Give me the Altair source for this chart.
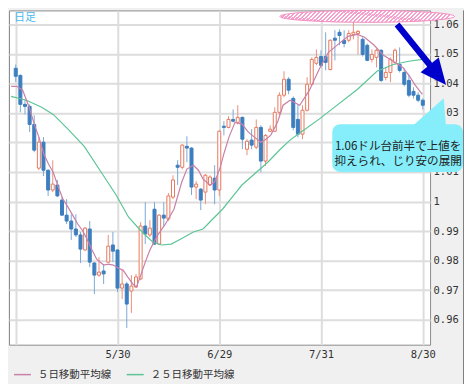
import altair as alt
import pandas as pd

# ---------------- data ----------------
idx = list(range(1, 90))
opens = [1.0451, 1.0427, 1.0329, 1.0322, 1.0261, 1.0113, 1.0201, 1.0106, 1.0039, 1.0056,
         1.0005, 0.9954, 0.9934, 0.9907, 0.9887, 0.9836, 0.9907, 0.9792, 0.9751, 0.9765,
         0.9795, 0.9853, 0.9836, 0.9707, 0.9721, 0.9697, 0.9711, 0.9738, 0.9917, 0.9887,
         0.9974, 0.9856, 0.9954, 0.9941, 1.0015, 1.0123, 1.0116, 1.0187, 1.0181, 1.0049,
         1.0042, 1.0032, 1.0056, 1.0079, 1.0039, 1.0255, 1.0251, 1.0278, 1.0268, 1.0285,
         1.0177, 1.0208, 1.0184, 1.0251, 1.0137, 1.0238, 1.0238, 1.0302, 1.0360, 1.0414,
         1.0349, 1.0278, 1.0228, 1.0309, 1.0397, 1.0468, 1.0491, 1.0491, 1.0447, 1.0553,
         1.0573, 1.0546, 1.0546, 1.0566, 1.0569, 1.0549, 1.0529, 1.0481, 1.0488, 1.0512,
         1.0420, 1.0437, 1.0471, 1.0464, 1.0437, 1.0410, 1.0373, 1.0360, 1.0343]
highs = [1.0464, 1.0430, 1.0346, 1.0329, 1.0292, 1.0218, 1.0218, 1.0109, 1.0140, 1.0073,
         1.0015, 1.0008, 0.9957, 0.9957, 0.9897, 0.9914, 0.9934, 0.9795, 0.9812, 0.9788,
         0.9887, 0.9897, 0.9838, 0.9768, 0.9728, 0.9751, 0.9755, 0.9930, 0.9998, 0.9937,
         0.9998, 0.9957, 0.9998, 1.0029, 1.0089, 1.0140, 1.0194, 1.0221, 1.0184, 1.0069,
         1.0046, 1.0093, 1.0089, 1.0123, 1.0241, 1.0272, 1.0289, 1.0312, 1.0326, 1.0288,
         1.0211, 1.0245, 1.0278, 1.0258, 1.0228, 1.0258, 1.0319, 1.0370, 1.0441, 1.0421,
         1.0356, 1.0329, 1.0326, 1.0421, 1.0488, 1.0515, 1.0512, 1.0573, 1.0549, 1.0580,
         1.0583, 1.0580, 1.0580, 1.0610, 1.0580, 1.0556, 1.0535, 1.0515, 1.0518, 1.0515,
         1.0454, 1.0488, 1.0518, 1.0522, 1.0451, 1.0430, 1.0387, 1.0370, 1.0349]
lows = [1.0404, 1.0302, 1.0295, 1.0235, 1.0167, 1.0106, 1.0086, 1.0019, 1.0032, 1.0015,
        0.9951, 0.9924, 0.9870, 0.9880, 0.9792, 0.9833, 0.9778, 0.9687, 0.9745, 0.9721,
        0.9792, 0.9795, 0.9694, 0.9670, 0.9572, 0.9623, 0.9707, 0.9734, 0.9856, 0.9880,
        0.9853, 0.9853, 0.9917, 0.9934, 1.0008, 1.0056, 1.0109, 1.0133, 1.0022, 1.0008,
        0.9971, 0.9991, 1.0053, 0.9991, 1.0019, 1.0224, 1.0248, 1.0268, 1.0261, 1.0177,
        1.0157, 1.0177, 1.0177, 1.0099, 1.0120, 1.0235, 1.0235, 1.0292, 1.0353, 1.0363,
        1.0241, 1.0218, 1.0211, 1.0305, 1.0393, 1.0461, 1.0454, 1.0444, 1.0444, 1.0478,
        1.0529, 1.0522, 1.0539, 1.0549, 1.0498, 1.0491, 1.0475, 1.0471, 1.0454, 1.0404,
        1.0410, 1.0404, 1.0464, 1.0437, 1.0390, 1.0353, 1.0349, 1.0336, 1.0312]
closes = [1.0424, 1.0329, 1.0322, 1.0261, 1.0174, 1.0201, 1.0106, 1.0039, 1.0059, 1.0019,
          0.9954, 0.9934, 0.9907, 0.9887, 0.9839, 0.9910, 0.9795, 0.9751, 0.9761, 0.9755,
          0.9849, 0.9832, 0.9707, 0.9721, 0.9653, 0.9714, 0.9745, 0.9917, 0.9890, 0.9910,
          0.9856, 0.9954, 0.9944, 1.0019, 1.0073, 1.0116, 1.0191, 1.0181, 1.0049, 1.0059,
          1.0005, 1.0089, 1.0083, 1.0039, 1.0238, 1.0251, 1.0278, 1.0272, 1.0285, 1.0211,
          1.0204, 1.0191, 1.0251, 1.0137, 1.0224, 1.0245, 1.0302, 1.0360, 1.0414, 1.0377,
          1.0251, 1.0228, 1.0309, 1.0397, 1.0481, 1.0488, 1.0461, 1.0471, 1.0546, 1.0546,
          1.0562, 1.0535, 1.0569, 1.0573, 1.0576, 1.0498, 1.0478, 1.0498, 1.0512, 1.0410,
          1.0437, 1.0481, 1.0512, 1.0444, 1.0397, 1.0360, 1.0360, 1.0343, 1.0326]

ma5_i = [0, 1.2, 2.5, 3.9, 5.0, 6.0, 7.1, 8.1, 9.1, 10.2, 11.2, 12.3, 13.3, 14.4, 15.4,
         16.4, 17.5, 18.5, 20.0, 21.0, 22.1, 23.1, 24.2, 25.2, 26.3, 27.1, 27.9, 29.0, 30.0,
         30.9, 31.7, 33.2, 35.2, 36.9, 38.0, 39.4, 40.5, 41.5, 43.0, 44.0, 45.1, 46.1, 47.1,
         48.4, 49.9, 51.3, 52.6, 54.0, 55.1, 56.1, 57.6, 58.8, 60.3, 62.4, 64.5, 66.6, 68.6,
         70.7, 72.8, 74.9, 76.4, 78.5, 80.5, 82.6, 84.7, 86.0, 87.4, 88.9]
ma5_v = [1.0390, 1.0390, 1.0377, 1.0319, 1.0262, 1.0218, 1.0160, 1.0126, 1.0099, 1.0049,
         1.0008, 0.9981, 0.9954, 0.9924, 0.9903, 0.9873, 0.9836, 0.9805, 0.9785, 0.9788,
         0.9785, 0.9775, 0.9768, 0.9745, 0.9721, 0.9711, 0.9745, 0.9795, 0.9836, 0.9863,
         0.9887, 0.9920, 0.9974, 1.0066, 1.0110, 1.0123, 1.0106, 1.0076, 1.0056, 1.0066,
         1.0110, 1.0167, 1.0218, 1.0268, 1.0262, 1.0235, 1.0218, 1.0201, 1.0211, 1.0224,
         1.0268, 1.0326, 1.0343, 1.0326, 1.0377, 1.0448, 1.0505, 1.0532, 1.0559, 1.0566,
         1.0556, 1.0529, 1.0495, 1.0475, 1.0454, 1.0427, 1.0393, 1.0363]
ma25_i = [0, 3.3, 6.6, 9.1, 12.3, 15.8, 19.2, 22.7, 25.4, 28.3, 30.6, 32.5, 34.6, 36.7,
          39.4, 41.5, 43.6, 45.7, 47.8, 49.9, 52.6, 55.5, 58.2, 60.3, 62.4, 66.6, 69.3,
          74.9, 79.1, 82.6, 86.0, 88.9]
ma25_v = [1.0356, 1.0343, 1.0319, 1.0295, 1.0245, 1.0187, 1.0106, 1.0022, 0.9947, 0.9897,
          0.9863, 0.9853, 0.9856, 0.9873, 0.9897, 0.9907, 0.9941, 0.9974, 1.0015, 1.0056,
          1.0093, 1.0133, 1.0177, 1.0208, 1.0232, 1.0279, 1.0312, 1.0380, 1.0441, 1.0464,
          1.0475, 1.0481]

date_ticks = [1, 23, 45, 67, 89]
date_labels = ["", "5/30", "6/29", "7/31", "8/30"]
price_ticks = [0.96, 0.97, 0.98, 0.99, 1.0, 1.01, 1.02, 1.03, 1.04, 1.05, 1.06]
hidden_price_label = 1.02   # fully covered by the callout in the reference

title_text = "日足"
legend_ma5 = "５日移動平均線"
legend_ma25 = "２５日移動平均線"
note_lines = ["1.06ドル台前半で上値を", "抑えられ、じり安の展開"]

# ---------------- styles ----------------
BLUE = "#3d7ebf"
BLUE_WICK = "#7aa9d8"
RED = "#e8795e"
RED_WICK = "#eb917a"
PINK = "#c980a9"
GREEN = "#5cc595"
MONO = "DejaVu Sans Mono"
JP = "Noto Sans CJK JP"

df = pd.DataFrame({"i": idx, "open": opens, "high": highs, "low": lows, "close": closes})
df["dir"] = ["up" if c >= o else "down" for o, c in zip(opens, closes)]
ma5 = pd.DataFrame({"i": ma5_i, "v": ma5_v})
ma25 = pd.DataFrame({"i": ma25_i, "v": ma25_v})
one = pd.DataFrame({"k": [0]})

xscale = alt.Scale(domain=[0.62, 89.5], nice=False, zero=False)
yscale = alt.Scale(domain=[0.95155, 1.0647], nice=False, zero=False)

label_expr = " : ".join(
    f"datum.value == {v} ? '{l}'" for v, l in zip(date_ticks, date_labels)) + " : ''"
x_axis = alt.Axis(values=date_ticks, labelExpr=label_expr, title=None, ticks=False,
                  domain=False, labelPadding=5, labelFont=MONO, labelFontSize=10.5,
                  labelColor="#333333", gridColor="#dddddd", gridWidth=2, zindex=0,
                  labelFlush=False, labelOverlap=False, labelBound=False)
y_axis = alt.Axis(orient="right", values=price_ticks,
                  labelExpr=f"abs(datum.value - {hidden_price_label}) < 0.001 ? '' : format(datum.value, '.2~f')",
                  title=None, ticks=False,
                  domain=False, labelPadding=3, labelFont=MONO, labelFontSize=10.5,
                  labelColor="#333333", gridColor="#dddddd", gridWidth=2, zindex=0,
                  labelFlush=False, labelOverlap=False, labelBound=False)


def X(field):
    return alt.X(field, type="quantitative", scale=xscale, axis=x_axis)


def Y(field):
    return alt.Y(field, type="quantitative", scale=yscale, axis=y_axis)


wick = alt.Chart(df).mark_rule(strokeWidth=1).encode(
    x=X("i"), y=Y("low"), y2="high",
    color=alt.Color("dir:N", scale=alt.Scale(domain=["up", "down"], range=[RED_WICK, BLUE_WICK]),
                    legend=None),
)
body = alt.Chart(df).mark_bar(size=3, strokeWidth=1).encode(
    x=X("i"), y=Y("open"), y2="close",
    fill=alt.Fill("dir:N", scale=alt.Scale(domain=["up", "down"], range=["#ffffff", BLUE]),
                  legend=None),
    stroke=alt.Stroke("dir:N", scale=alt.Scale(domain=["up", "down"], range=[RED, BLUE]),
                      legend=None),
)
line25 = alt.Chart(ma25).mark_line(color=GREEN, strokeWidth=1.2, clip=True).encode(
    x=X("i"), y=Y("v"))
line5 = alt.Chart(ma5).mark_line(color=PINK, strokeWidth=1.2, clip=True).encode(
    x=X("i"), y=Y("v"))

# hatched pink ellipse (stripes via a hard-stop gradient)
HATCH = "#f7a0cd"
stops = []
period = 0.023
k = 0
while k * period < 1:
    a = k * period
    b = min(a + period * 0.55, 1)
    c = min((k + 1) * period, 1)
    stops += [{"offset": a, "color": HATCH}, {"offset": b, "color": HATCH},
              {"offset": b, "color": "#ffffff"}, {"offset": c, "color": "#ffffff"}]
    k += 1
hatch = {"gradient": "linear", "x1": 0, "y1": 0, "x2": 1, "y2": 0.074, "stops": stops}
ELLIPSE = "M -1 0 A 1 0.068 0 1 1 1 0 A 1 0.068 0 1 1 -1 0 Z"
ellipse = alt.Chart(one).mark_point(shape=ELLIPSE, size=175 * 175, filled=True, fill=hatch,
                                    stroke="#f38fc2", strokeWidth=1, opacity=1).encode(
    x=alt.value(359), y=alt.value(6))

ARROW = "M -1 -0.08 L 0.33 -0.08 L 0.33 -0.3 L 1 0 L 0.33 0.3 L 0.33 0.08 L -1 0.08 Z"
arrow = alt.Chart(one).mark_point(shape=ARROW, size=78 * 78, filled=True, fill="#0000cc",
                                  strokeWidth=0, opacity=1, angle=51).encode(
    x=alt.value(413.5), y=alt.value(44.5))

CYAN = "#85eefa"
bubble = alt.Chart(one).mark_rect(cornerRadius=8, color=CYAN).encode(
    x=alt.value(324), x2=alt.value(455), y=alt.value(114), y2=alt.value(162))
POINTER = "M -0.85 0.8 L 0.785 -0.65 L 0.9 0.8 Z"
pointer = alt.Chart(one).mark_point(shape=POINTER, size=1600, filled=True, fill=CYAN,
                                    strokeWidth=0, opacity=1).encode(
    x=alt.value(420), y=alt.value(101))
note = alt.Chart(one).mark_text(text=note_lines, font=JP, fontSize=11.6, color="#222222",
                                align="center", baseline="middle", lineHeight=15).encode(
    x=alt.value(390), y=alt.value(136.5))

title = alt.Chart(one).mark_text(text=title_text, font=JP, fontSize=11, color="#4cb8ee",
                                 align="left", baseline="middle").encode(
    x=alt.value(5), y=alt.value(7.5))

leg1_line = alt.Chart(one).mark_rule(color=PINK, strokeWidth=1.5).encode(
    x=alt.value(5), x2=alt.value(22), y=alt.value(365))
leg1_text = alt.Chart(one).mark_text(text=legend_ma5, font=JP, fontSize=10.5, color="#333333",
                                     align="left", baseline="middle").encode(
    x=alt.value(29), y=alt.value(365))
leg2_line = alt.Chart(one).mark_rule(color=GREEN, strokeWidth=1.5).encode(
    x=alt.value(118), x2=alt.value(135), y=alt.value(365))
leg2_text = alt.Chart(one).mark_text(text=legend_ma25, font=JP, fontSize=10.5, color="#333333",
                                     align="left", baseline="middle").encode(
    x=alt.value(142), y=alt.value(365))

frame_r = alt.Chart(one).mark_rule(color="#808080", strokeWidth=1).encode(
    x=alt.value(455.5), y=alt.value(0), y2=alt.value(375))
frame_b = alt.Chart(one).mark_rule(color="#808080", strokeWidth=1).encode(
    x=alt.value(0), x2=alt.value(455.5), y=alt.value(375))

chart = alt.layer(
    wick, body, line25, line5, ellipse, arrow, bubble, pointer, note, title,
    leg1_line, leg1_text, leg2_line, leg2_text, frame_r, frame_b,
).properties(
    width=422, height=335, padding=0, background="#f0f0f0",
).configure_view(fill="white", stroke="#8c8c8c", strokeWidth=1)

chart.save("out.html", embed_options={"renderer": "svg", "actions": False})
